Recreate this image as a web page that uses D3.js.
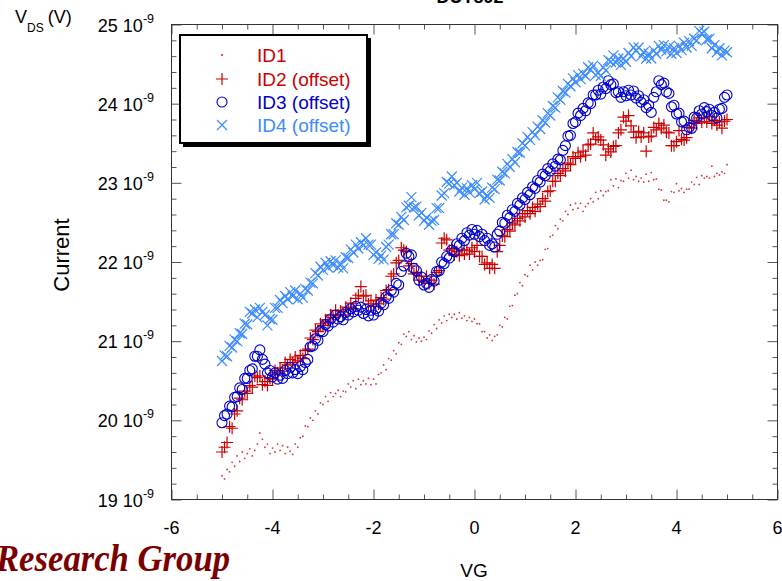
<!DOCTYPE html>
<html>
<head>
<meta charset="utf-8">
<title>DUT892</title>
<style>
  body { margin: 0; background: #fff; }
  svg { display: block; font-family: "Liberation Sans", Arial, sans-serif; }
</style>
</head>
<body>
<script src="https://cdn.jsdelivr.net/npm/d3@7"></script>
<script>
// VG sweep, -5 .. 5 V in 0.05 V steps
var vg = d3.range(201).map(i => Math.round((-5 + i * 0.05) * 100) / 100);

// currents in units of 1e-9, one row per volt
var id1 = [
  19.30, 19.26, 19.38, 19.35, 19.47, 19.42, 19.55, 19.48, 19.60, 19.52, 19.58, 19.64, 19.55, 19.62, 19.70, 19.84, 19.76, 19.66, 19.70, 19.58,
  19.65, 19.60, 19.70, 19.62, 19.68, 19.58, 19.66, 19.61, 19.57, 19.70, 19.66, 19.78, 19.80, 19.93, 19.92, 20.03, 20.00, 20.12, 20.08, 20.22,
  20.20, 20.30, 20.24, 20.35, 20.30, 20.34, 20.38, 20.30, 20.37, 20.36, 20.46, 20.42, 20.50, 20.40, 20.52, 20.45, 20.50, 20.46, 20.53, 20.45,
  20.52, 20.46, 20.58, 20.60, 20.70, 20.64, 20.78, 20.76, 20.88, 20.84, 20.98, 20.96, 21.09, 21.06, 21.12, 21.02, 21.07, 20.99, 21.04, 21.00,
  21.05, 21.02, 21.13, 21.10, 21.21, 21.16, 21.27, 21.23, 21.32, 21.26, 21.34, 21.30, 21.34, 21.28, 21.36, 21.29, 21.32, 21.26, 21.30, 21.25,
  21.28, 21.22, 21.22, 21.12, 21.12, 21.04, 21.08, 21.01, 21.06, 21.08, 21.20, 21.18, 21.30, 21.28, 21.44, 21.45, 21.58, 21.60, 21.74, 21.70,
  21.84, 21.82, 21.96, 21.90, 22.00, 21.96, 22.02, 22.03, 22.16, 22.17, 22.32, 22.34, 22.46, 22.42, 22.54, 22.52, 22.64, 22.60, 22.72, 22.66,
  22.74, 22.68, 22.74, 22.64, 22.70, 22.74, 22.80, 22.76, 22.88, 22.80, 22.90, 22.84, 22.89, 22.90, 23.04, 22.96, 23.05, 22.94, 23.03, 23.02,
  23.12, 23.06, 23.16, 23.04, 23.08, 23.02, 23.06, 23.01, 23.11, 23.02, 23.13, 23.04, 23.05, 22.92, 22.91, 22.78, 22.78, 22.76, 22.89, 22.88,
  22.99, 22.90, 22.93, 22.88, 22.92, 22.92, 23.01, 22.98, 23.07, 22.98, 23.09, 23.06, 23.08, 23.06, 23.21, 23.08, 23.12, 23.10, 23.14, 23.12,
  23.23
];
var id2 = [
  19.60, 19.66, 19.72, 19.92, 19.90, 20.08, 20.12, 20.28, 20.26, 20.37, 20.34, 20.44, 20.42, 20.56, 20.54, 20.56, 20.45, 20.49, 20.44, 20.53,
  20.52, 20.63, 20.60, 20.66, 20.62, 20.73, 20.70, 20.77, 20.73, 20.80, 20.75, 20.82, 20.78, 20.88, 20.90, 21.04, 21.02, 21.14, 21.12, 21.22,
  21.20, 21.27, 21.24, 21.33, 21.30, 21.39, 21.33, 21.38, 21.33, 21.43, 21.40, 21.48, 21.41, 21.54, 21.58, 21.69, 21.57, 21.58, 21.47, 21.51,
  21.44, 21.52, 21.47, 21.55, 21.53, 21.64, 21.65, 21.82, 21.85, 21.99, 22.02, 22.18, 22.15, 22.13, 21.95, 21.98, 21.85, 21.87, 21.77, 21.82,
  21.75, 21.82, 21.73, 21.77, 21.72, 21.87, 21.89, 22.24, 22.30, 22.28, 22.15, 22.17, 22.09, 22.13, 22.08, 22.15, 22.10, 22.15, 22.10, 22.18,
  22.13, 22.21, 22.07, 22.07, 21.97, 21.99, 21.92, 21.97, 21.92, 22.13, 22.21, 22.33, 22.32, 22.41, 22.39, 22.49, 22.47, 22.55, 22.52, 22.61,
  22.57, 22.65, 22.61, 22.69, 22.64, 22.73, 22.70, 22.80, 22.77, 22.89, 22.90, 23.02, 23.02, 23.12, 23.09, 23.18, 23.15, 23.25, 23.23, 23.33,
  23.31, 23.38, 23.33, 23.40, 23.35, 23.48, 23.49, 23.63, 23.55, 23.58, 23.54, 23.48, 23.35, 23.43, 23.39, 23.46, 23.47, 23.63, 23.67, 23.83,
  23.78, 23.85, 23.72, 23.64, 23.57, 23.65, 23.58, 23.63, 23.40, 23.58, 23.59, 23.70, 23.67, 23.75, 23.69, 23.73, 23.64, 23.63, 23.47, 23.47,
  23.52, 23.66, 23.55, 23.54, 23.57, 23.70, 23.69, 23.79, 23.75, 23.82, 23.77, 23.82, 23.77, 23.84, 23.75, 23.79, 23.73, 23.77, 23.69, 23.78,
  23.80
];
var id3 = [
  19.97, 20.06, 20.08, 20.18, 20.17, 20.29, 20.30, 20.41, 20.39, 20.53, 20.53, 20.63, 20.65, 20.81, 20.81, 20.89, 20.77, 20.71, 20.60, 20.63,
  20.55, 20.60, 20.52, 20.57, 20.53, 20.63, 20.59, 20.67, 20.60, 20.64, 20.59, 20.68, 20.64, 20.73, 20.77, 20.93, 20.94, 21.03, 21.01, 21.13,
  21.12, 21.21, 21.19, 21.28, 21.24, 21.33, 21.28, 21.31, 21.27, 21.36, 21.33, 21.41, 21.37, 21.44, 21.39, 21.43, 21.35, 21.40, 21.32, 21.39,
  21.33, 21.41, 21.38, 21.48, 21.46, 21.56, 21.54, 21.64, 21.62, 21.73, 21.71, 21.88, 21.95, 22.11, 22.07, 22.09, 21.92, 21.89, 21.77, 21.81,
  21.71, 21.73, 21.68, 21.78, 21.76, 21.88, 21.89, 22.00, 21.98, 22.07, 22.05, 22.15, 22.13, 22.23, 22.21, 22.30, 22.27, 22.37, 22.34, 22.41,
  22.35, 22.40, 22.32, 22.35, 22.27, 22.30, 22.21, 22.23, 22.19, 22.35, 22.39, 22.50, 22.49, 22.59, 22.56, 22.66, 22.64, 22.74, 22.72, 22.81,
  22.79, 22.88, 22.85, 22.95, 22.93, 23.03, 23.01, 23.11, 23.09, 23.18, 23.15, 23.24, 23.21, 23.30, 23.29, 23.41, 23.47, 23.59, 23.60, 23.75,
  23.77, 23.88, 23.85, 23.94, 23.91, 24.01, 24.00, 24.11, 24.11, 24.17, 24.12, 24.21, 24.19, 24.29, 24.24, 24.25, 24.14, 24.15, 24.08, 24.15,
  24.10, 24.17, 24.11, 24.16, 24.07, 24.10, 24.02, 24.05, 23.95, 23.98, 23.89, 24.08, 24.15, 24.29, 24.24, 24.26, 24.15, 24.13, 23.96, 23.98,
  23.87, 23.88, 23.77, 23.78, 23.67, 23.70, 23.69, 23.83, 23.82, 23.91, 23.87, 23.95, 23.90, 23.93, 23.85, 23.89, 23.82, 23.93, 23.94, 24.08,
  24.11
];
var id4 = [
  20.75, 20.82, 20.81, 20.94, 20.92, 21.02, 21.00, 21.10, 21.09, 21.22, 21.21, 21.37, 21.35, 21.40, 21.30, 21.42, 21.37, 21.33, 21.20, 21.28,
  21.27, 21.42, 21.42, 21.52, 21.48, 21.57, 21.53, 21.62, 21.57, 21.64, 21.53, 21.60, 21.55, 21.66, 21.64, 21.74, 21.73, 21.86, 21.83, 21.94,
  21.90, 21.99, 21.93, 22.01, 21.96, 22.02, 21.93, 21.98, 21.92, 22.06, 22.05, 22.16, 22.12, 22.22, 22.17, 22.25, 22.21, 22.30, 22.22, 22.22,
  22.09, 22.12, 22.04, 22.08, 22.03, 22.19, 22.22, 22.35, 22.35, 22.49, 22.47, 22.57, 22.53, 22.69, 22.71, 22.82, 22.69, 22.70, 22.59, 22.62,
  22.52, 22.56, 22.47, 22.52, 22.53, 22.68, 22.68, 22.84, 22.87, 23.01, 22.99, 23.08, 22.97, 23.00, 22.89, 22.94, 22.85, 22.93, 22.88, 22.97,
  22.92, 23.00, 22.87, 22.89, 22.79, 22.84, 22.81, 22.94, 22.92, 23.04, 23.03, 23.14, 23.12, 23.24, 23.20, 23.30, 23.26, 23.39, 23.38, 23.50,
  23.47, 23.58, 23.54, 23.64, 23.60, 23.71, 23.68, 23.79, 23.76, 23.88, 23.85, 23.97, 23.95, 24.08, 24.05, 24.16, 24.14, 24.25, 24.22, 24.32,
  24.27, 24.36, 24.31, 24.38, 24.35, 24.46, 24.43, 24.48, 24.36, 24.39, 24.35, 24.46, 24.42, 24.55, 24.53, 24.61, 24.52, 24.57, 24.49, 24.57,
  24.53, 24.64, 24.60, 24.71, 24.67, 24.71, 24.60, 24.65, 24.57, 24.63, 24.57, 24.67, 24.63, 24.73, 24.68, 24.74, 24.66, 24.72, 24.63, 24.70,
  24.64, 24.73, 24.68, 24.77, 24.71, 24.79, 24.73, 24.82, 24.80, 24.92, 24.89, 24.91, 24.81, 24.82, 24.70, 24.74, 24.65, 24.70, 24.61, 24.67,
  24.65
];

var xTicks = [-6, -4, -2, 0, 2, 4, 6];
var yTicks = [19, 20, 21, 22, 23, 24, 25];
var legendNames = ["ID1", "ID2 (offset)", "ID3 (offset)", "ID4 (offset)"];

var width = 782, height = 581;
var red = "#cc0000", blue = "#0000cc", lblue = "#3d8bff";

var svg = d3.select("body").append("svg")
    .attr("width", width)
    .attr("height", height);

var x = d3.scaleLinear().domain([-6, 6]).range([171.5, 777.5]);
var y = d3.scaleLinear().domain([19, 25]).range([499.5, 24.5]);

var xMinor = d3.range(-6, 6.01, 0.5).filter(v => Math.abs(v % 2) > 0.01);
var yMinor = d3.range(19, 25.01, 0.2).filter(v => Math.abs(v - Math.round(v)) > 0.01);

// frame + inward ticks on all four sides
function ticks(axis, vals, size) {
  return g => g.call(axis.tickValues(vals).tickSize(-size).tickFormat(""))
    .call(g => g.select(".domain").remove())
    .call(g => g.selectAll("line").attr("stroke", "#555"));
}
svg.append("g").attr("transform", `translate(0,${y(19)})`).call(ticks(d3.axisBottom(x), xTicks, 10));
svg.append("g").attr("transform", `translate(0,${y(19)})`).call(ticks(d3.axisBottom(x), xMinor, 5));
svg.append("g").attr("transform", `translate(0,${y(25)})`).call(ticks(d3.axisTop(x), xTicks, 10));
svg.append("g").attr("transform", `translate(0,${y(25)})`).call(ticks(d3.axisTop(x), xMinor, 5));
svg.append("g").attr("transform", `translate(${x(-6)},0)`).call(ticks(d3.axisLeft(y), yTicks, 10));
svg.append("g").attr("transform", `translate(${x(-6)},0)`).call(ticks(d3.axisLeft(y), yMinor, 5));
svg.append("g").attr("transform", `translate(${x(6)},0)`).call(ticks(d3.axisRight(y), yTicks, 10));
svg.append("g").attr("transform", `translate(${x(6)},0)`).call(ticks(d3.axisRight(y), yMinor, 5));

svg.append("rect")
    .attr("x", x(-6)).attr("y", y(25))
    .attr("width", x(6) - x(-6)).attr("height", y(19) - y(25))
    .attr("fill", "none").attr("stroke", "#333").attr("stroke-width", 1);

// tick labels
svg.append("g").selectAll("text").data(xTicks).join("text")
    .attr("x", d => x(d)).attr("y", 534)
    .attr("text-anchor", "middle").attr("font-size", 18)
    .text(d => String(d));

var yl = svg.append("g").selectAll("text").data(yTicks).join("text")
    .attr("x", 154).attr("y", d => y(d) + 7)
    .attr("text-anchor", "end").attr("font-size", 18);
yl.append("tspan").text(d => d + " 10");
yl.append("tspan").attr("dy", -9).attr("font-size", 12.5).text("-9");

// axis titles
svg.append("text").attr("x", 474).attr("y", 577)
    .attr("text-anchor", "middle").attr("font-size", 19).text("VG");
svg.append("text").attr("transform", "translate(69,255) rotate(-90)")
    .attr("text-anchor", "middle").attr("font-size", 22).text("Current");

var vds = svg.append("text").attr("x", 15).attr("y", 23).attr("font-size", 18);
vds.append("tspan").text("V");
vds.append("tspan").attr("dy", 9).attr("font-size", 12).text("DS");
vds.append("tspan").attr("dy", -9).attr("dx", 4).text("(V)");

svg.append("text").attr("x", 470).attr("y", 3)
    .attr("text-anchor", "middle").attr("font-size", 18).attr("font-weight", "bold")
    .text("DUT892");

svg.append("text").attr("x", -4).attr("y", 571)
    .attr("font-size", 38)
    .attr("textLength", 234).attr("lengthAdjust", "spacingAndGlyphs")
    .attr("font-family", "'Liberation Serif', serif")
    .attr("font-style", "italic").attr("font-weight", "bold")
    .attr("fill", "#7a0000").text("Research Group");

// series
var plot = svg.append("g");
var plus = "M-6,0H6M0,-6V6", cross = "M-5,-5L5,5M-5,5L5,-5";

plot.append("g").selectAll("circle").data(id1).join("circle")
    .attr("cx", (d, i) => x(vg[i])).attr("cy", d => y(d))
    .attr("r", 0.9).attr("fill", red).attr("opacity", 0.8);

plot.append("g").selectAll("path").data(id2).join("path")
    .attr("transform", (d, i) => `translate(${x(vg[i])},${y(d)})`)
    .attr("d", plus).attr("stroke", red).attr("stroke-width", 1.2).attr("fill", "none");

plot.append("g").selectAll("circle").data(id3).join("circle")
    .attr("cx", (d, i) => x(vg[i])).attr("cy", d => y(d))
    .attr("r", 5).attr("stroke", blue).attr("stroke-width", 1.1).attr("fill", "none");

plot.append("g").selectAll("path").data(id4).join("path")
    .attr("transform", (d, i) => `translate(${x(vg[i])},${y(d)})`)
    .attr("d", cross).attr("stroke", lblue).attr("stroke-width", 1.2).attr("fill", "none");

// legend
var lg = svg.append("g");
lg.append("rect").attr("x", 183).attr("y", 38).attr("width", 188).attr("height", 109).attr("fill", "#000");
lg.append("rect").attr("x", 180).attr("y", 35).attr("width", 187).attr("height", 108)
    .attr("fill", "#fff").attr("stroke", "#000").attr("stroke-width", 2);

var ly = [55, 79, 102, 125], lc = [red, red, blue, lblue];
lg.append("circle").attr("cx", 222).attr("cy", ly[0]).attr("r", 0.9).attr("fill", red);
lg.append("path").attr("transform", `translate(222,${ly[1]})`).attr("d", plus)
    .attr("stroke", red).attr("stroke-width", 1.2);
lg.append("circle").attr("cx", 222).attr("cy", ly[2]).attr("r", 5)
    .attr("stroke", blue).attr("stroke-width", 1.1).attr("fill", "none");
lg.append("path").attr("transform", `translate(222,${ly[3]})`).attr("d", cross)
    .attr("stroke", lblue).attr("stroke-width", 1.2);

lg.selectAll("text.lab").data(legendNames).join("text")
    .attr("class", "lab")
    .attr("x", 257).attr("y", (d, i) => ly[i] + 7)
    .attr("font-size", 19).attr("fill", (d, i) => lc[i])
    .text(d => d);
</script>
</body>
</html>
